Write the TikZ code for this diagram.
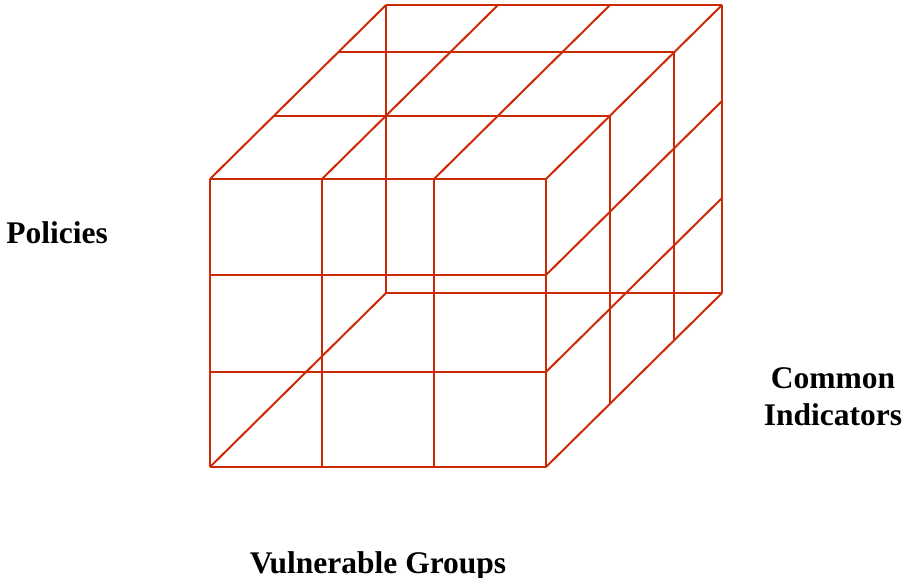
\documentclass[tikz,border=0pt]{standalone}
\usepackage{fontspec}
\setmainfont{Liberation Serif}
\definecolor{cubered}{HTML}{CC2A05}
\definecolor{txt}{HTML}{000000}
\usetikzlibrary{positioning}

\begin{document}
\begin{tikzpicture}[
  x=1pt, y=-1pt,
  edge/.style={draw=cubered, line width=2pt},
  lbl/.style={
    text=txt, inner sep=0pt, align=center, anchor=base,
    font=\bfseries\fontsize{31.5}{37}\selectfont},
]
  \useasboundingbox (0,0) rectangle (906,578);

  % hidden back edges
  \draw[edge] (210,467) -- (386,293);
  \draw[edge] (386,5) -- (386,293) -- (722,293);

  % front face
  \foreach \x in {210,322,434,546}{
    \draw[edge] (\x,179) -- (\x,467);
  }
  \foreach \y in {179,275,372,467}{
    \draw[edge] (210,\y) -- (546,\y);
  }

  % top face
  \foreach \x in {210,322,434,546}{
    \draw[edge] (\x,179) -- ++(176,-174);
  }
  \foreach \dx/\dy in {64/63,128/127,176/174}{
    \draw[edge] (210+\dx,179-\dy) -- ++(336,0);
  }

  % right face
  \foreach \y in {275,372,467}{
    \draw[edge] (546,\y) -- ++(176,-174);
  }
  \foreach \dx/\dy in {64/63,128/127,176/174}{
    \draw[edge] (546+\dx,179-\dy) -- ++(0,288);
  }

  % axis labels
  \node[lbl] (policies) at (57,243) {Policies};
  \node[lbl] (indicators) at (833,425) {Common\\Indicators};
  \node[lbl] (groups) at (378,573) {Vulnerable Groups};
\end{tikzpicture}
\end{document}
